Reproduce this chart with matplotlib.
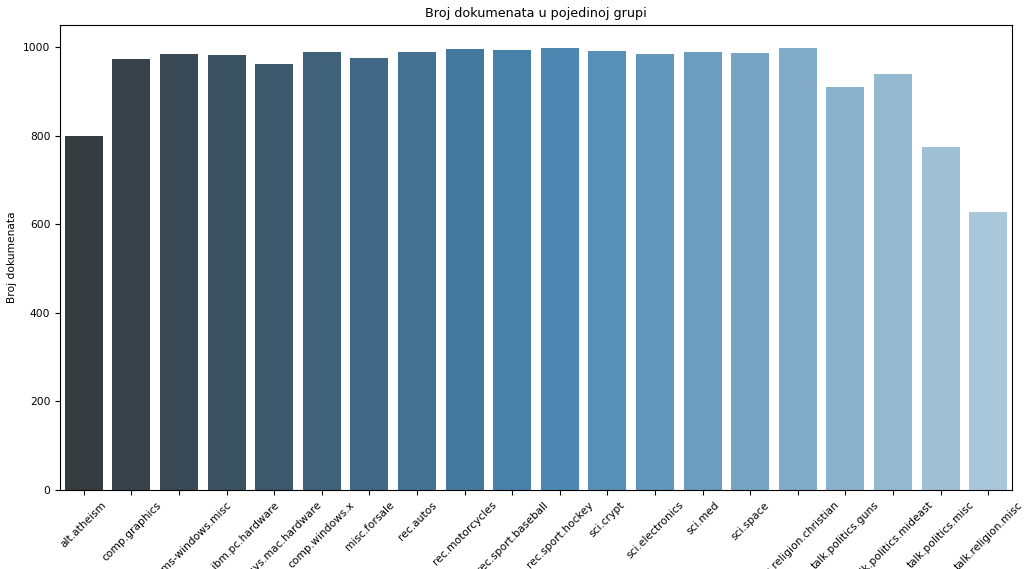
import matplotlib
matplotlib.use("Agg")
import matplotlib.pyplot as plt
import seaborn as sns

categories = ["alt.atheism", "comp.graphics", "comp.os.ms-windows.misc",
              "comp.sys.ibm.pc.hardware", "comp.sys.mac.hardware", "comp.windows.x",
              "misc.forsale", "rec.autos", "rec.motorcycles", "rec.sport.baseball",
              "rec.sport.hockey", "sci.crypt", "sci.electronics", "sci.med", "sci.space",
              "soc.religion.christian", "talk.politics.guns", "talk.politics.mideast",
              "talk.politics.misc", "talk.religion.misc"]
counts = [799, 973, 985, 982, 963, 988, 975, 990, 996, 994,
          999, 991, 984, 990, 987, 997, 910, 940, 775, 628]

fig = plt.figure(figsize=(10.24, 5.69), dpi=100)
ax = fig.add_axes([60/1024, 79/569, 952/1024, 465/569])
palette = sns.color_palette("Blues_r_d", len(categories))
sns.barplot(x=categories, y=counts, hue=categories, palette=palette, legend=False, ax=ax)
ax.set_title("Broj dokumenata u pojedinoj grupi", fontsize=9.2)
ax.set_ylabel("Broj dokumenata", fontsize=7.7)
ax.set_xlabel("")
ax.set_ylim(0, 1050)
ax.tick_params(axis="both", labelsize=7.7)
plt.setp(ax.get_xticklabels(), rotation=45)
fig.savefig("out.png", dpi=100)
